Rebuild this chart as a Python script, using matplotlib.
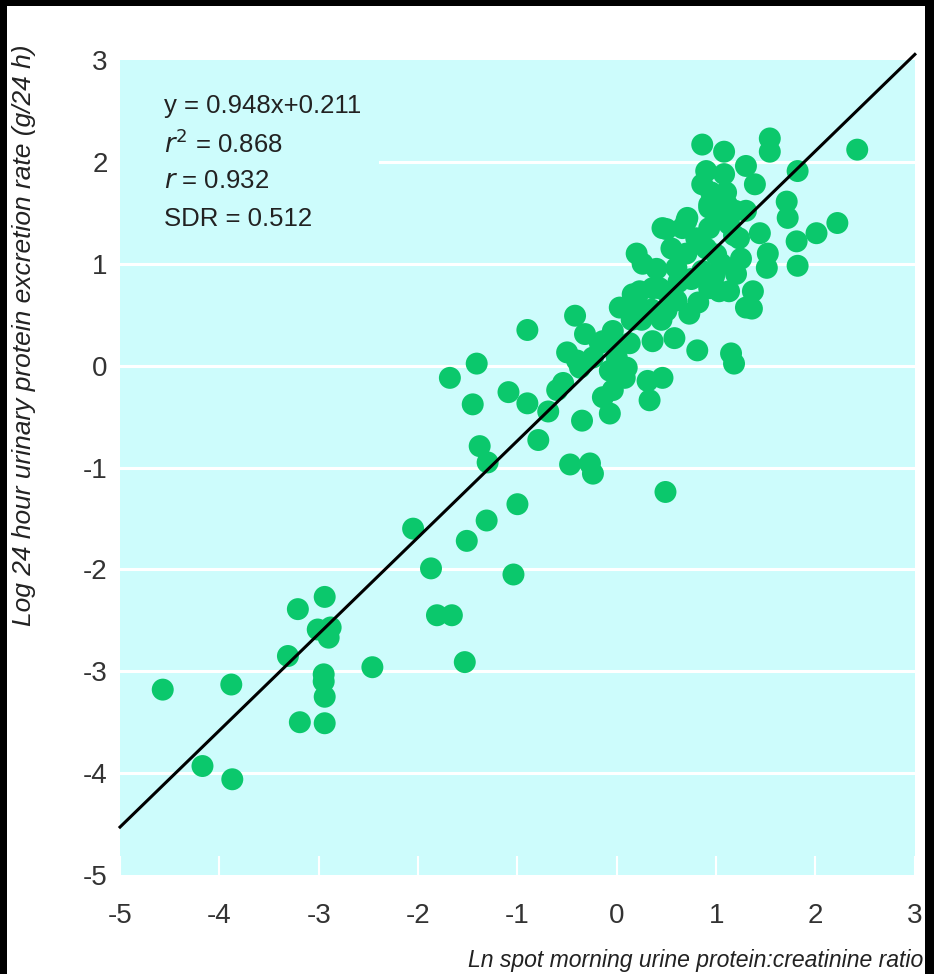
import numpy as np
import matplotlib
matplotlib.use("Agg")
import matplotlib.pyplot as plt
from matplotlib.patches import Rectangle

plt.rcParams['font.family'] = ['Liberation Sans', 'DejaVu Sans']

# spot ratio (ln) vs 24 h protein excretion (log)
ln_ratio = [
    -4.57, -3.88, -4.17, -3.87, -3.31, -3.21, -2.94, -2.88, -3.01, -2.90,
    -2.46, -2.95, -2.95, -2.94, -3.19, -2.94,
    -2.05, -1.87, -1.81, -1.66, -1.53, -1.51, -1.31, -1.04, -1.00,
    -1.68, -1.41, -1.45, -1.38, -1.30, -1.09, -0.90, -0.90, -0.79, -0.69,
    -0.35, -0.47, -0.27, -0.24, 0.49,
    -0.42, -0.32, -0.50, -0.54, -0.60, -0.40, -0.37, -0.24, -0.17, -0.14,
    -0.04, 0.03, 0.16, 0.36, -0.04, 0.13, 0.00, 0.10, 0.03, -0.14,
    -0.07, 0.08, -0.07, -0.04, 0.31, 0.46, 0.33, 0.36, 0.58, 0.81,
    1.15, 1.18, 0.73, 0.50, 0.93, 1.13, 1.30, 0.20, 0.23, 0.43,
    0.60, 1.03, 1.37, 1.36, 0.93, 0.25, 0.45, 0.15, 0.35,
    0.86, 1.08, 1.54, 1.54, 0.90, 1.08, 1.30, 1.39, 0.86, 1.82,
    0.93, 1.11, 1.30, 1.71, 1.72, 0.71, 0.50, 0.66, 0.80, 0.93,
    1.13, 1.23, 1.44, 1.81, 2.01, 2.22, 0.20, 0.26, 0.60, 1.52,
    1.51, 1.82, 1.00, 1.20, 0.86, 2.42, 0.46, 0.70, 0.93, 1.19,
    0.70, 0.90, 1.05, 0.40, 0.55, 0.75, 1.25, 1.00, 1.10, 0.95,
    0.62, 0.82, 0.98, 0.52, 1.18,
]
log_excretion = [
    -3.18, -3.13, -3.93, -4.06, -2.85, -2.39, -2.27, -2.57, -2.59, -2.67,
    -2.96, -3.03, -3.10, -3.25, -3.50, -3.51,
    -1.60, -1.99, -2.45, -2.45, -2.91, -1.72, -1.52, -2.05, -1.36,
    -0.12, 0.02, -0.38, -0.79, -0.95, -0.26, 0.35, -0.37, -0.73, -0.45,
    -0.54, -0.97, -0.96, -1.06, -1.24,
    0.49, 0.31, 0.13, -0.17, -0.24, 0.05, -0.02, 0.08, 0.22, 0.24,
    0.34, 0.57, 0.70, 0.76, 0.27, 0.22, 0.08, -0.02, -0.08, -0.31,
    -0.47, -0.12, -0.05, -0.24, -0.15, -0.12, -0.34, 0.24, 0.27, 0.15,
    0.12, 0.02, 0.51, 0.54, 0.76, 0.73, 0.57, 0.64, 0.73, 0.76,
    0.64, 0.73, 0.73, 0.56, 0.80, 0.45, 0.45, 0.45, 0.55,
    2.17, 2.10, 2.23, 2.10, 1.91, 1.88, 1.96, 1.78, 1.78, 1.91,
    1.58, 1.58, 1.52, 1.61, 1.45, 1.45, 1.34, 1.35, 1.25, 1.35,
    1.39, 1.25, 1.30, 1.22, 1.30, 1.40, 1.10, 1.00, 0.96, 1.10,
    0.96, 0.98, 1.09, 0.90, 0.93, 2.12, 1.35, 1.42, 1.55, 1.52,
    1.10, 1.15, 1.00, 0.95, 1.15, 0.85, 1.05, 1.50, 1.70, 1.70,
    0.82, 0.62, 0.88, 0.70, 1.28,
]

slope, intercept = 0.948, 0.211
stats_text = ["y = 0.948x+0.211", "$r^2$ = 0.868", "$r$ = 0.932", "SDR = 0.512"]
ticks = [-5, -4, -3, -2, -1, 0, 1, 2, 3]

bg = '#cdfcfc'
green = '#0bc86c'
tick_color = '#333333'

fig = plt.figure(figsize=(9.34, 9.74), dpi=100)
fig.patch.set_facecolor('white')
ax = fig.add_axes([0.1285, 0.1016, 0.851, 0.8368])
ax.set_facecolor(bg)
for s in ax.spines.values():
    s.set_visible(False)

ax.set_xlim(-5, 3)
ax.set_ylim(-5, 3)

# white horizontal grid; the one at 2 stops short of the stats text
for yv in ticks[1:-1]:
    ax.axhline(yv, xmin=0.327 if yv == 2 else 0, color='white', lw=2.2, zorder=1)

ax.scatter(ln_ratio, log_excretion, s=250, color=green, edgecolors='none', zorder=2)

xs = np.array([-5, 3])
ax.plot(xs, slope * xs + intercept, color='black', lw=2.2, zorder=3, clip_on=False)

for i, line in enumerate(stats_text):
    ax.text(-4.56, 2.55 - i * 0.37, line, fontsize=18.5, color='#222222',
            va='center', ha='left', zorder=4)

ax.set_xticks(ticks)
ax.set_yticks(ticks)
ax.set_xticklabels([str(t) for t in ticks])
ax.set_yticklabels([str(t) for t in ticks])
ax.tick_params(axis='x', direction='in', length=14, width=1.5, color='white',
               pad=20, labelsize=20, labelcolor=tick_color)
ax.tick_params(axis='y', length=0, pad=9, labelsize=20, labelcolor=tick_color)

fig.text(24 / 934, 1 - 335 / 974, "Log 24 hour urinary protein excretion rate (g/24 h)",
         rotation=90, ha='center', va='center', fontsize=19, style='italic', color='#222222')
# the scan cuts this label off at the right edge
fig.text(468 / 934, 1 - 960 / 974, "Ln spot morning urine protein:creatinine ratio",
         ha='left', va='center', fontsize=16.6, style='italic', color='#222222')

# black frame along top, left and right edges of the scan
for x0, y0, w, h in [(0, 1 - 6 / 974, 1, 6 / 974), (0, 0, 7 / 934, 1), (925 / 934, 0, 9 / 934, 1)]:
    fig.add_artist(Rectangle((x0, y0), w, h, transform=fig.transFigure,
                             facecolor='black', edgecolor='none', zorder=10))

fig.savefig('out.png', dpi=100)
